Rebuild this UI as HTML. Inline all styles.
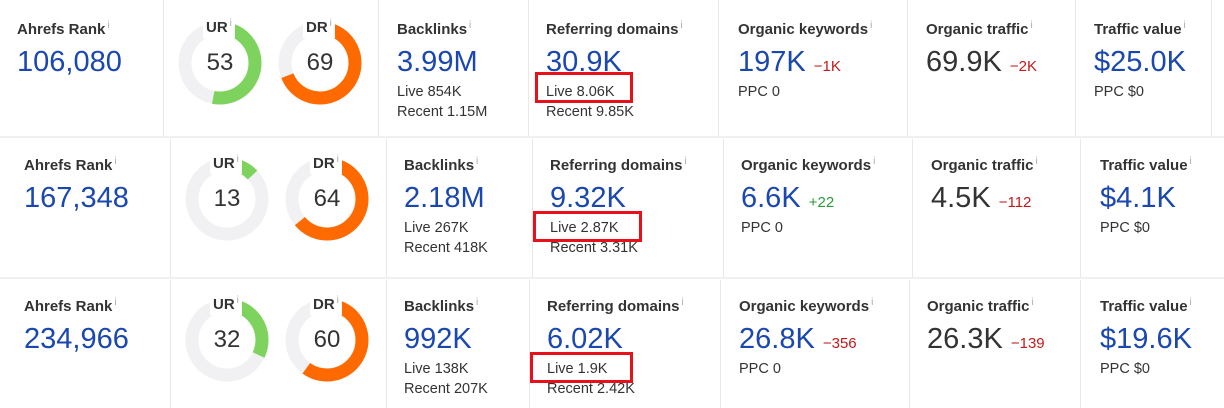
<!DOCTYPE html>
<html><head><meta charset="utf-8"><style>
body{margin:0;width:1224px;height:408px;background:#fff;position:relative;overflow:hidden;font-family:"Liberation Sans",Arial,sans-serif;}
.a{position:absolute;white-space:nowrap}
.t{font-size:15px;font-weight:bold;color:#333}
.t sup{font-weight:normal;color:#aaa;font-size:10px;vertical-align:6px;margin-left:2px}
.l{background:#fff;padding:0 3px 2px 3px;z-index:2}
.b{font-size:29px;color:#1a47b0}
.k{color:#333}
.s{font-size:14.5px;color:#333}
.d{font-size:15px;color:#c31a1a}
.g{font-size:15px;color:#2a9a3a}
.v{position:absolute;width:1px;background:#e8e8e8}
.h{position:absolute;height:2px;background:#f0f0f0;left:0;width:1224px}
.box{position:absolute;border:3px solid #e8101a}
.dn{position:absolute}
.dn span{position:absolute;left:0;width:84px;top:28px;text-align:center;font-size:24px;color:#333}
</style></head><body>
<div class="h" style="top:136px"></div>
<div class="h" style="top:277px"></div>

<!-- Row 1 -->
<div class="v" style="left:163px;top:0;height:136px"></div>
<div class="v" style="left:378px;top:0;height:136px"></div>
<div class="v" style="left:528px;top:0;height:136px"></div>
<div class="v" style="left:718px;top:0;height:136px"></div>
<div class="v" style="left:907px;top:0;height:136px"></div>
<div class="v" style="left:1075px;top:0;height:136px"></div>
<div class="v" style="left:1211px;top:0;height:136px"></div>
<div class="a t" style="left:17px;top:20px">Ahrefs Rank<sup>i</sup></div>
<div class="a b" style="left:17px;top:46px">106,080</div>
<div class="dn" style="left:178px;top:21px"><svg width="84" height="84"><circle cx="42" cy="42" r="35" fill="none" stroke="#f1f1f3" stroke-width="13"/><circle cx="42" cy="42" r="35" fill="none" stroke="#7ed35f" stroke-width="13" stroke-dasharray="116.6 300" transform="rotate(-90 42 42)"/></svg><span>53</span></div>
<div class="dn" style="left:278px;top:21px"><svg width="84" height="84"><circle cx="42" cy="42" r="35" fill="none" stroke="#f1f1f3" stroke-width="13"/><circle cx="42" cy="42" r="35" fill="none" stroke="#ff6a00" stroke-width="13" stroke-dasharray="151.7 300" transform="rotate(-90 42 42)"/></svg><span>69</span></div>
<div class="a t l" style="left:203px;top:18px">UR<sup>i</sup></div>
<div class="a t l" style="left:303px;top:18px">DR<sup>i</sup></div>
<div class="a t" style="left:397px;top:20px">Backlinks<sup>i</sup></div>
<div class="a b" style="left:397px;top:46px">3.99M</div>
<div class="a s" style="left:397px;top:84px">Live 854K</div>
<div class="a s" style="left:397px;top:104px">Recent 1.15M</div>
<div class="a t" style="left:546px;top:20px">Referring domains<sup>i</sup></div>
<div class="a b" style="left:546px;top:46px">30.9K</div>
<div class="a s" style="left:546px;top:84px">Live 8.06K</div>
<div class="a s" style="left:546px;top:104px">Recent 9.85K</div>
<div class="box" style="left:535px;top:72px;width:92px;height:25px"></div>
<div class="a t" style="left:738px;top:20px">Organic keywords<sup>i</sup></div>
<div class="a b" style="left:738px;top:46px">197K <span class="d">−1K</span></div>
<div class="a s" style="left:738px;top:84px">PPC 0</div>
<div class="a t" style="left:926px;top:20px">Organic traffic<sup>i</sup></div>
<div class="a b k" style="left:926px;top:46px">69.9K <span class="d">−2K</span></div>
<div class="a t" style="left:1094px;top:20px">Traffic value<sup>i</sup></div>
<div class="a b" style="left:1094px;top:46px">$25.0K</div>
<div class="a s" style="left:1094px;top:84px">PPC $0</div>

<!-- Row 2 -->
<div class="v" style="left:170px;top:139px;height:138px"></div>
<div class="v" style="left:386px;top:139px;height:138px"></div>
<div class="v" style="left:532px;top:139px;height:138px"></div>
<div class="v" style="left:723px;top:139px;height:138px"></div>
<div class="v" style="left:912px;top:139px;height:138px"></div>
<div class="v" style="left:1080px;top:139px;height:138px"></div>
<div class="a t" style="left:24px;top:156px">Ahrefs Rank<sup>i</sup></div>
<div class="a b" style="left:24px;top:182px">167,348</div>
<div class="dn" style="left:185px;top:157px"><svg width="84" height="84"><circle cx="42" cy="42" r="35" fill="none" stroke="#f1f1f3" stroke-width="13"/><circle cx="42" cy="42" r="35" fill="none" stroke="#7ed35f" stroke-width="13" stroke-dasharray="28.6 300" transform="rotate(-90 42 42)"/></svg><span>13</span></div>
<div class="dn" style="left:285px;top:157px"><svg width="84" height="84"><circle cx="42" cy="42" r="35" fill="none" stroke="#f1f1f3" stroke-width="13"/><circle cx="42" cy="42" r="35" fill="none" stroke="#ff6a00" stroke-width="13" stroke-dasharray="140.7 300" transform="rotate(-90 42 42)"/></svg><span>64</span></div>
<div class="a t l" style="left:210px;top:154px">UR<sup>i</sup></div>
<div class="a t l" style="left:310px;top:154px">DR<sup>i</sup></div>
<div class="a t" style="left:404px;top:156px">Backlinks<sup>i</sup></div>
<div class="a b" style="left:404px;top:182px">2.18M</div>
<div class="a s" style="left:404px;top:220px">Live 267K</div>
<div class="a s" style="left:404px;top:240px">Recent 418K</div>
<div class="a t" style="left:550px;top:156px">Referring domains<sup>i</sup></div>
<div class="a b" style="left:550px;top:182px">9.32K</div>
<div class="a s" style="left:550px;top:220px">Live 2.87K</div>
<div class="a s" style="left:550px;top:240px">Recent 3.31K</div>
<div class="box" style="left:533px;top:211px;width:103px;height:25px"></div>
<div class="a t" style="left:741px;top:156px">Organic keywords<sup>i</sup></div>
<div class="a b" style="left:741px;top:182px">6.6K <span class="g">+22</span></div>
<div class="a s" style="left:741px;top:220px">PPC 0</div>
<div class="a t" style="left:931px;top:156px">Organic traffic<sup>i</sup></div>
<div class="a b k" style="left:931px;top:182px">4.5K <span class="d">−112</span></div>
<div class="a t" style="left:1100px;top:156px">Traffic value<sup>i</sup></div>
<div class="a b" style="left:1100px;top:182px">$4.1K</div>
<div class="a s" style="left:1100px;top:220px">PPC $0</div>

<!-- Row 3 -->
<div class="v" style="left:170px;top:280px;height:128px"></div>
<div class="v" style="left:386px;top:280px;height:128px"></div>
<div class="v" style="left:529px;top:280px;height:128px"></div>
<div class="v" style="left:720px;top:280px;height:128px"></div>
<div class="v" style="left:909px;top:280px;height:128px"></div>
<div class="v" style="left:1080px;top:280px;height:128px"></div>
<div class="a t" style="left:24px;top:297px">Ahrefs Rank<sup>i</sup></div>
<div class="a b" style="left:24px;top:323px">234,966</div>
<div class="dn" style="left:185px;top:298px"><svg width="84" height="84"><circle cx="42" cy="42" r="35" fill="none" stroke="#f1f1f3" stroke-width="13"/><circle cx="42" cy="42" r="35" fill="none" stroke="#7ed35f" stroke-width="13" stroke-dasharray="70.4 300" transform="rotate(-90 42 42)"/></svg><span>32</span></div>
<div class="dn" style="left:285px;top:298px"><svg width="84" height="84"><circle cx="42" cy="42" r="35" fill="none" stroke="#f1f1f3" stroke-width="13"/><circle cx="42" cy="42" r="35" fill="none" stroke="#ff6a00" stroke-width="13" stroke-dasharray="131.9 300" transform="rotate(-90 42 42)"/></svg><span>60</span></div>
<div class="a t l" style="left:210px;top:295px">UR<sup>i</sup></div>
<div class="a t l" style="left:310px;top:295px">DR<sup>i</sup></div>
<div class="a t" style="left:404px;top:297px">Backlinks<sup>i</sup></div>
<div class="a b" style="left:404px;top:323px">992K</div>
<div class="a s" style="left:404px;top:361px">Live 138K</div>
<div class="a s" style="left:404px;top:381px">Recent 207K</div>
<div class="a t" style="left:547px;top:297px">Referring domains<sup>i</sup></div>
<div class="a b" style="left:547px;top:323px">6.02K</div>
<div class="a s" style="left:547px;top:361px">Live 1.9K</div>
<div class="a s" style="left:547px;top:381px">Recent 2.42K</div>
<div class="box" style="left:530px;top:352px;width:97px;height:25px"></div>
<div class="a t" style="left:739px;top:297px">Organic keywords<sup>i</sup></div>
<div class="a b" style="left:739px;top:323px">26.8K <span class="d">−356</span></div>
<div class="a s" style="left:739px;top:361px">PPC 0</div>
<div class="a t" style="left:927px;top:297px">Organic traffic<sup>i</sup></div>
<div class="a b k" style="left:927px;top:323px">26.3K <span class="d">−139</span></div>
<div class="a t" style="left:1100px;top:297px">Traffic value<sup>i</sup></div>
<div class="a b" style="left:1100px;top:323px">$19.6K</div>
<div class="a s" style="left:1100px;top:361px">PPC $0</div>
</body></html>
